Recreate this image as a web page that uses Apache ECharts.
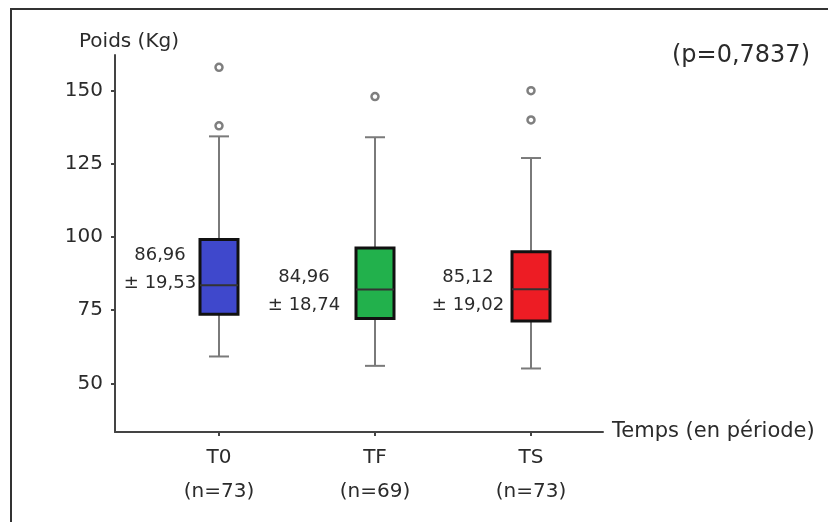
<!DOCTYPE html>
<html>
<head>
<meta charset="utf-8">
<script src="https://cdn.jsdelivr.net/npm/echarts@6/dist/echarts.min.js"></script>
<style>
  html, body { margin: 0; padding: 0; background: #fff; }
  #chart { width: 828px; height: 522px; }
</style>
</head>
<body>
<div id="chart"></div>
<script>
const categories = ['T0', 'TF', 'TS'];
const counts = [73, 69, 73];
const whiskerLow = [59.2, 56, 55.1];
const q1 = [73.6, 72.2, 71.3];
const median = [83.5, 82.1, 82.2];
const q3 = [99.2, 96.3, 95];
const whiskerHigh = [134.4, 134.1, 127];
const means = [86.96, 84.96, 85.12];
const sds = [19.53, 18.74, 19.02];
const outlierCat = [0, 0, 1, 2, 2];
const outlierVal = [158, 138, 148, 150, 140];
const yTicks = [50, 75, 100, 125, 150];
const pValue = '0,7837';

const boxColors = ['#3f48cc', '#22b14c', '#ed1c24'];
const labelOffsets = [[-59, -6], [-71, 10], [-63, 11]];
const font = 'DejaVu Sans';
const yMin = 33.4, yMax = 162.2;

const fmt = v => v.toFixed(2).replace('.', ',');

let chart = echarts.init(document.getElementById('chart'));

chart.setOption({
  animation: false,
  textStyle: { fontFamily: font, color: '#2b2b2b' },
  title: {
    text: '(p=' + pValue + ')',
    right: 13,
    top: 39,
    textStyle: { fontFamily: font, fontSize: 24, fontWeight: 'normal', color: '#2b2b2b' }
  },
  graphic: [{
    type: 'rect',
    shape: { x: 11, y: 9, width: 900, height: 600 },
    style: { fill: 'none', stroke: '#333', lineWidth: 2 },
    silent: true
  }],
  grid: [
    { left: 141, right: 219, top: 55, bottom: 90 },
    { left: 115, right: 225, top: 55, bottom: 90 }
  ],
  xAxis: [
    {
      gridIndex: 0,
      type: 'category',
      data: categories,
      boundaryGap: true,
      axisLine: { show: false },
      axisTick: { show: true, alignWithLabel: true, length: 4, lineStyle: { color: '#444', width: 2 } },
      axisLabel: {
        margin: 9,
        fontFamily: font,
        fontSize: 20,
        lineHeight: 34,
        color: '#2b2b2b',
        formatter: (v, i) => v + '\n(n=' + counts[i] + ')'
      }
    },
    {
      gridIndex: 1,
      type: 'value',
      min: 0,
      max: 1,
      name: 'Temps (en période)',
      nameLocation: 'end',
      nameGap: 9,
      nameTextStyle: { fontFamily: font, fontSize: 21, color: '#2b2b2b' },
      axisLine: { show: true, lineStyle: { color: '#444', width: 2 } },
      axisTick: { show: false },
      axisLabel: { show: false },
      splitLine: { show: false }
    }
  ],
  yAxis: [
    {
      gridIndex: 0,
      type: 'value',
      min: yMin,
      max: yMax,
      show: false
    },
    {
      gridIndex: 1,
      type: 'value',
      min: yMin,
      max: yMax,
      name: 'Poids (Kg)',
      nameLocation: 'end',
      nameGap: 3,
      nameTextStyle: { fontFamily: font, fontSize: 20, color: '#2b2b2b', padding: [0, 0, 0, 28] },
      axisLine: { show: true, lineStyle: { color: '#444', width: 2 } },
      axisTick: { show: true, length: 4, customValues: yTicks, lineStyle: { color: '#444', width: 2 } },
      axisLabel: { margin: 12, fontFamily: font, fontSize: 20, color: '#2b2b2b', customValues: yTicks },
      splitLine: { show: false }
    }
  ],
  series: [
    {
      type: 'custom',
      xAxisIndex: 0,
      yAxisIndex: 0,
      data: categories.map((c, i) => [i, whiskerLow[i], q1[i], median[i], q3[i], whiskerHigh[i]]),
      encode: { x: 0, y: [1, 2, 3, 4, 5] },
      renderItem: function (params, api) {
        const c = api.value(0);
        const lo = api.coord([c, api.value(1)]);
        const b1 = api.coord([c, api.value(2)]);
        const md = api.coord([c, api.value(3)]);
        const b3 = api.coord([c, api.value(4)]);
        const hi = api.coord([c, api.value(5)]);
        const x = lo[0];
        const half = 19, cap = 10;
        const wStyle = { stroke: '#7a7a7a', lineWidth: 2 };
        return {
          type: 'group',
          children: [
            { type: 'line', shape: { x1: x, y1: hi[1], x2: x, y2: b3[1] }, style: wStyle },
            { type: 'line', shape: { x1: x, y1: b1[1], x2: x, y2: lo[1] }, style: wStyle },
            { type: 'line', shape: { x1: x - cap, y1: hi[1], x2: x + cap, y2: hi[1] }, style: wStyle },
            { type: 'line', shape: { x1: x - cap, y1: lo[1], x2: x + cap, y2: lo[1] }, style: wStyle },
            {
              type: 'rect',
              shape: { x: x - half, y: b3[1], width: half * 2, height: b1[1] - b3[1] },
              style: { fill: boxColors[c], stroke: '#111', lineWidth: 3 }
            },
            { type: 'line', shape: { x1: x - half, y1: md[1], x2: x + half, y2: md[1] }, style: { stroke: '#333', lineWidth: 2 } }
          ]
        };
      }
    },
    {
      type: 'scatter',
      xAxisIndex: 0,
      yAxisIndex: 0,
      data: outlierCat.map((c, i) => [c, outlierVal[i]]),
      symbol: 'circle',
      symbolSize: 7,
      itemStyle: { color: '#fff', borderColor: '#7f7f7f', borderWidth: 2.5, opacity: 1 }
    },
    {
      type: 'scatter',
      xAxisIndex: 0,
      yAxisIndex: 0,
      symbolSize: 0,
      itemStyle: { color: '#2b2b2b', opacity: 1 },
      data: means.map((m, i) => ({
        value: [i, m],
        label: { offset: labelOffsets[i] }
      })),
      label: {
        show: true,
        position: 'inside',
        align: 'center',
        verticalAlign: 'middle',
        fontFamily: font,
        fontSize: 18,
        lineHeight: 28,
        color: '#2b2b2b',
        opacity: 1,
        textBorderWidth: 0,
        textBorderColor: 'transparent',
        formatter: p => fmt(means[p.dataIndex]) + '\n± ' + fmt(sds[p.dataIndex])
      }
    }
  ]
});
</script>
</body>
</html>
